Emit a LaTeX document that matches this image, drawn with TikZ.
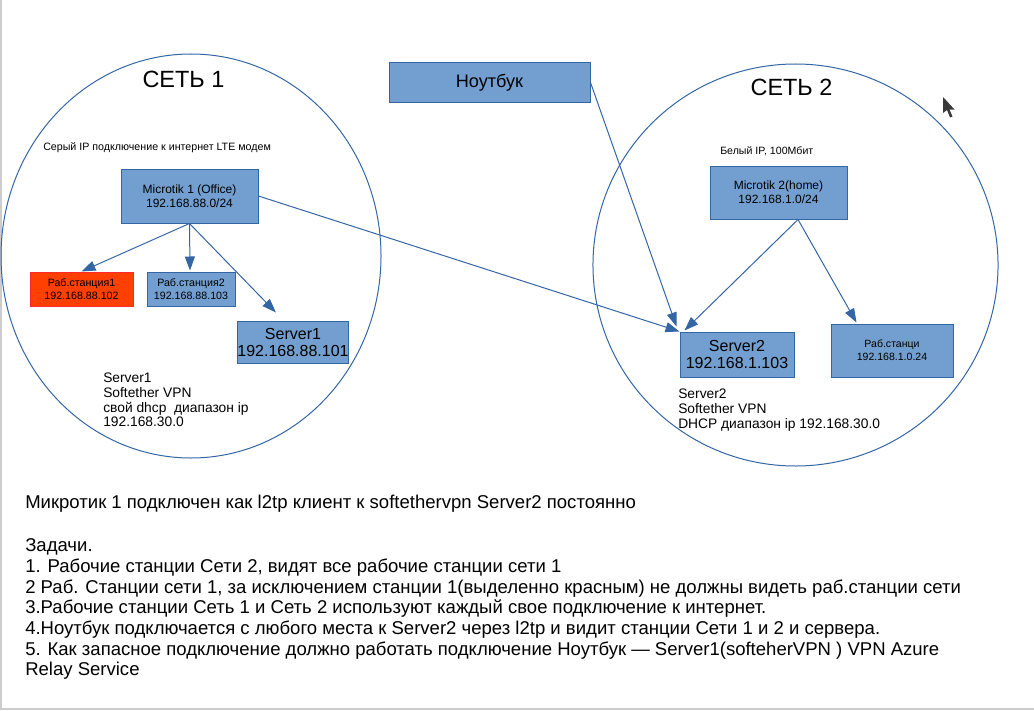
\documentclass[tikz,border=0pt]{standalone}
\usepackage{fontspec}
\setmainfont{Liberation Sans}
\usetikzlibrary{arrows.meta,calc}
\definecolor{boxfill}{HTML}{729FCF}
\definecolor{boxline}{HTML}{3465A4}
\definecolor{redfill}{HTML}{FF4000}
\definecolor{redline}{HTML}{FF2A2A}
\definecolor{edgegray}{HTML}{CCCCCC}
\definecolor{cursorgray}{HTML}{3A3A3A}
\newcommand\fsz[2]{\fontsize{#1}{#2}\selectfont}
\begin{document}
\begin{tikzpicture}[x=0.75pt,y=-0.75pt,
  box/.style={draw=boxline, fill=boxfill, line width=0.75pt, inner sep=0pt, align=center, text=black},
  redbox/.style={box, draw=redline, fill=redfill},
  conn/.style={draw=boxline, line width=0.75pt, -{Triangle[length=10.5pt,width=7.5pt]}},
  lbl/.style={anchor=base west, inner sep=0pt, text=black},
  ttl/.style={anchor=base, inner sep=0pt, text=black, font=\fsz{17.6pt}{20pt}},
  net/.style={draw=boxline, line width=0.75pt}]
\useasboundingbox (0,0) rectangle (1034,710);
% page edges
\draw[edgegray, line width=1.5pt] (1,0) -- (1,710);
\draw[edgegray, line width=1.5pt] (0,709) -- (1034,709);
% networks
\draw[net] (191,256) ellipse [x radius=142.5pt, y radius=151.5pt];
\draw[net] (795.5,265) ellipse [x radius=151.9pt, y radius=150.75pt];
\node[ttl] (set1) at (183.5,88) {СЕТЬ 1};
\node[ttl] (set2) at (791.5,95) {СЕТЬ 2};
\node[lbl, font=\fsz{8pt}{9pt}] (grey) at (43,150) {Серый IP подключение к интернет LTE модем};
\node[lbl, font=\fsz{7.95pt}{9pt}] (white) at (720,154) {Белый IP, 100Мбит};
% boxes
\node[box, minimum width=150.75pt, minimum height=29.25pt, font=\fsz{13.6pt}{15pt}] (laptop) at (489.5,82.5) {Ноутбук};
\node[box, minimum width=102.75pt, minimum height=40.5pt, font=\fsz{9pt}{10.5pt}] (mk1) at (189.5,196) {Microtik 1 (Office)\\192.168.88.0/24};
\node[redbox, minimum width=77.25pt, minimum height=25.5pt, font=\fsz{8pt}{9.5pt}] (ws1) at (81.5,289) {Раб.станция1\\192.168.88.102};
\node[box, minimum width=66pt, minimum height=25.5pt, font=\fsz{8pt}{9.5pt}] (ws2) at (191,289) {Раб.станция2\\192.168.88.103};
\node[box, minimum width=82.5pt, minimum height=31.5pt, font=\fsz{12pt}{12.75pt}] (srv1) at (293,342) {Server1\\192.168.88.101};
\node[box, minimum width=102.75pt, minimum height=39.75pt, font=\fsz{9pt}{10.5pt}] (mk2) at (778.5,192.5) {Microtik 2(home)\\192.168.1.0/24};
\node[box, minimum width=85.5pt, minimum height=33.75pt, font=\fsz{12pt}{12.75pt}] (srv2) at (737,354.5) {Server2\\192.168.1.103};
\node[box, minimum width=91.5pt, minimum height=39.75pt, font=\fsz{7.9pt}{9.5pt}] (ws3) at (892,350.5) {Раб.станци\\192.168.1.0.24};
% server notes
\begin{scope}[every node/.style={lbl, font=\fsz{10.35pt}{11pt}}]
\node (s1a) at (103,382) {Server1};
\node (s1b) at (103,397) {Softether VPN};
\node (s1c) at (103,412) {свой dhcp\ \ диапазон ip};
\node (s1d) at (103,426) {192.168.30.0};
\node (s2a) at (678,398) {Server2};
\node (s2b) at (678,413) {Softether VPN};
\node (s2c) at (678,428) {DHCP диапазон ip 192.168.30.0};
\end{scope}
% connectors
\draw[conn] (mk1.south) -- (ws1.north);
\draw[conn] (mk1.south) -- ($(ws2.north)+(-1,-1)$);
\draw[conn] (mk1.south) -- ($(srv1.north west)+(39,-8)$);
\draw[conn] (mk1.east) -- (srv2.north west);
\draw[conn] (laptop.east) -- ($(srv2.north west)+(-3,-5)$);
\coordinate (mk2out) at ($(mk2.south)+(19.5,0)$);
\draw[conn] (mk2out) -- ($(srv2.north west)+(5,-1)$);
\draw[conn] (mk2out) -- ($(ws3.north west)+(26,-1)$);
% cursor
\fill[cursorgray] (943,97) -- (943,113) -- (947,110) -- (950,117.5) -- (952.5,116.5) -- (949.5,109.5) -- (954.5,109.5) -- cycle;
% bottom text
\begin{scope}[every node/.style={lbl, font=\fsz{13.9pt}{15.6pt}}]
\node (b1) at (25,508) {Микротик 1 подключен как l2tp клиент к softethervpn Server2 постоянно};
\node (b2) at (25,551) {Задачи.};
\node (b3) at (25,572) {1. Рабочие станции Сети 2, видят все рабочие станции сети 1};
\node (b4) at (25,593) {2 Раб. Станции сети 1, за исключением станции 1(выделенно красным) не должны видеть раб.станции сети};
\node (b5) at (25,613.5) {3.Рабочие станции Сеть 1 и Сеть 2 используют каждый свое подключение к интернет.};
\node (b6) at (25,634) {4.Ноутбук подключается с любого места к Server2 через l2tp и видит станции Сети 1 и 2 и сервера.};
\node (b7) at (25,655) {5. Как запасное подключение должно работать подключение Ноутбук — Server1(softeherVPN ) VPN Azure};
\node (b8) at (25,675) {Relay Service};
\end{scope}
\end{tikzpicture}
\end{document}
